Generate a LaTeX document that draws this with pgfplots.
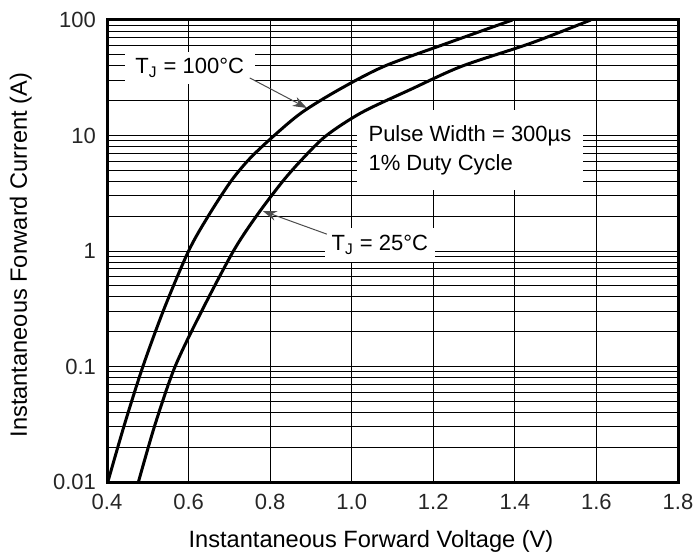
\documentclass[border=0pt]{standalone}
\usepackage{pgfplots}
\pgfplotsset{compat=1.18}
\usepackage{fontspec}
\setmainfont{Liberation Sans}
\usetikzlibrary{arrows.meta}

\begin{document}
\begin{tikzpicture}
\begin{axis}[
  at={(0,0)}, anchor=south west,
  scale only axis, width=285.5pt, height=231pt,
  xmin=0.4, xmax=1.8, ymin=0.01, ymax=100, ymode=log,
  xtick={0.4,0.6,0.8,1.0,1.2,1.4,1.6,1.8},
  xticklabels={0.4,0.6,0.8,1.0,1.2,1.4,1.6,1.8},
  ytick={0.01,0.1,1,10,100},
  yticklabels={0.01,0.1,1,10,100},
  minor ytick={0.02,0.03,0.04,0.05,0.06,0.07,0.08,0.09,
               0.2,0.3,0.4,0.5,0.6,0.7,0.8,0.9,
               2,3,4,5,6,7,8,9,
               20,30,40,50,60,70,80,90},
  grid=both,
  major grid style={black, line width=0.5pt},
  minor grid style={black, line width=0.5pt},
  major tick length=0pt, minor tick length=0pt,
  axis line style={line width=1.5pt},
  tick label style={font=\fontsize{11}{13}\selectfont, black!85},
  xticklabel style={yshift=-2.5pt},
  yticklabel style={xshift=-2pt},
  /pgf/number format/assume math mode=true,
]
% white label boxes over the grid
\node[fill=white, minimum width=65pt, minimum height=16pt, inner sep=1pt,
      font=\fontsize{11}{13}\selectfont] at (axis cs:0.603,38.4)
      {T\textsubscript{J} = 100°C};
\node[fill=white, minimum width=55pt, minimum height=17pt, inner sep=1pt,
      font=\fontsize{11}{13}\selectfont] at (axis cs:1.069,1.13)
      {T\textsubscript{J} = 25°C};
\node[fill=white, minimum width=112.5pt, minimum height=40pt, inner sep=2pt,
      align=left, font=\fontsize{11}{14.5}\selectfont] at (axis cs:1.29,7.48)
      {Pulse Width = 300µs\\1\% Duty Cycle};

% T_J = 100 C
\addplot[black, line width=1.5pt, smooth, tension=0.5] coordinates {
  (0.402,0.01) (0.443,0.0316) (0.488,0.1) (0.540,0.316) (0.600,1)
  (0.648,2) (0.703,3.98) (0.750,6.31) (0.810,10) (0.878,15.85)
  (0.970,25.1) (1.080,39.8) (1.235,63.1) (1.394,100)
};
% T_J = 25 C
\addplot[black, line width=1.5pt, smooth, tension=0.5] coordinates {
  (0.477,0.01) (0.518,0.0316) (0.567,0.1) (0.635,0.316) (0.710,1)
  (0.766,2) (0.830,3.98) (0.880,6.31) (0.938,10) (1.025,15.85)
  (1.145,25.1) (1.270,39.8) (1.440,63.1) (1.586,100)
};

\draw[-{Stealth[length=7pt,width=5pt]}, black!70, line width=0.5pt]
  (axis cs:0.750,31.5) -- (axis cs:0.890,17.3);
\draw[-{Stealth[length=7pt,width=5pt]}, black!70, line width=0.5pt]
  (axis cs:0.939,1.40) -- (axis cs:0.782,2.22);
\end{axis}

\node[anchor=base, font=\fontsize{11.8}{14}\selectfont] at (132pt,-32.5pt)
  {Instantaneous Forward Voltage (V)};
\node[anchor=base, rotate=90, font=\fontsize{11.8}{14}\selectfont] at (-40pt,113.5pt)
  {Instantaneous Forward Current (A)};

\pgfresetboundingbox
\path[use as bounding box] (-53.5pt,-35.5pt) rectangle (293.5pt,241pt);
\end{tikzpicture}
\end{document}
